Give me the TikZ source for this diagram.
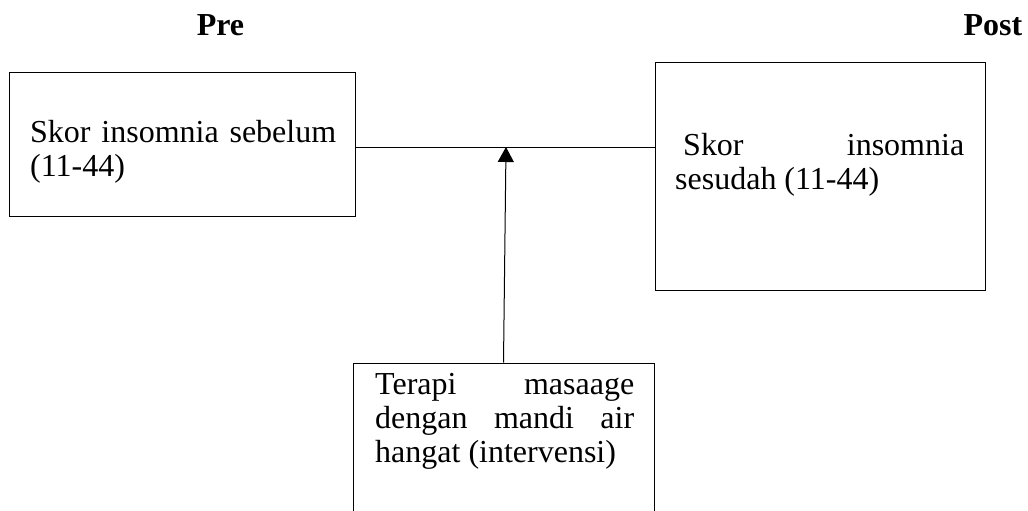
\documentclass[tikz,border=0pt]{standalone}
\usepackage{fontspec}
\setmainfont{Liberation Serif}
\usetikzlibrary{arrows.meta}
\tolerance=10000
\hyphenpenalty=10000
\exhyphenpenalty=10000
\begin{document}
\begin{tikzpicture}[x=1pt,y=-1pt,
  box/.style={draw=black, line width=1pt, rectangle, inner sep=0pt},
  txt/.style={inner sep=0pt, anchor=north west, align=justify, font=\fontsize{32}{34}\selectfont},
  head/.style={inner sep=0pt, anchor=base, font=\fontsize{32}{34}\selectfont\bfseries},
  conn/.style={line width=1pt}]
\clip (0,0) rectangle (1028,511);
\node[box, minimum width=346pt, minimum height=143pt] (pre) at (182,144.5) {};
\node[box, minimum width=330pt, minimum height=227pt] (post) at (820,176.5) {};
\node[box, minimum width=301pt, minimum height=170pt] (ter) at (503.5,448) {};
\node[txt, text width=306pt] (pretxt) at (30,117) {\rule{0pt}{25pt}Skor insomnia sebelum (11-44)};
\node[txt, text width=289pt] (posttxt) at (675,130) {\rule{0pt}{25pt}\hspace*{8pt}Skor insomnia sesudah (11-44)};
\node[txt, text width=259pt] (tertxt) at (375,369) {\rule{0pt}{25pt}Terapi masaage dengan mandi air hangat (intervensi)};
\node[head] (prehd) at (220.5,36) {Pre};
\node[head] (posthd) at (993,36) {Post};
\coordinate (j) at (506,147);
\draw[conn] (pre.east |- j) -- (post.west |- j);
\draw[conn, -{Triangle[width=16pt,length=15pt]}] (ter.north) -- (j);
\end{tikzpicture}
\end{document}
